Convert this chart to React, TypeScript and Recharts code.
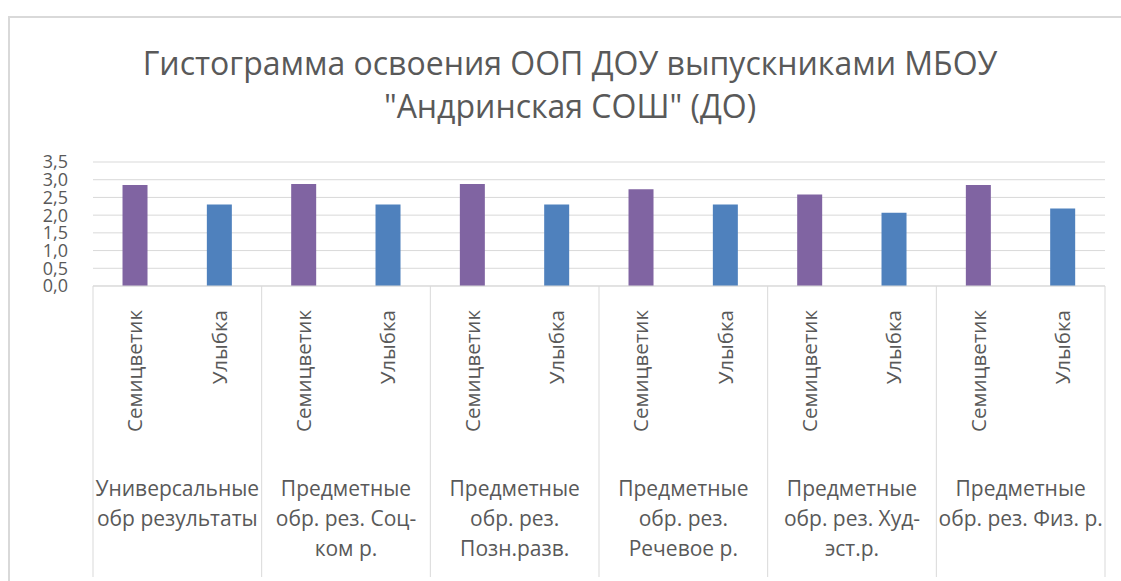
import { BarChart, Bar, XAxis, YAxis, CartesianGrid } from "recharts";

const titleLines = ["Гистограмма освоения ООП ДОУ выпускниками МБОУ", "\"Андринская СОШ\" (ДО)"];

// group labels, already split the way Excel wrapped them
const groupLabels = [
  ["Универсальные", "обр результаты"],
  ["Предметные", "обр. рез. Соц-", "ком р."],
  ["Предметные", "обр. рез.", "Позн.разв."],
  ["Предметные", "обр. рез.", "Речевое р."],
  ["Предметные", "обр. рез. Худ-", "эст.р."],
  ["Предметные", "обр. рез. Физ. р."],
];

const seriesNames = ["Семицветик", "Улыбка"];
const semitsvetikValues = [2.85, 2.88, 2.88, 2.73, 2.58, 2.85];
const ulybkaValues = [2.3, 2.3, 2.3, 2.3, 2.07, 2.19];
const yTicks = [0, 0.5, 1, 1.5, 2, 2.5, 3, 3.5];

const data = groupLabels.flatMap((_, i) => [
  { key: `g${i}-0`, group: i, series: seriesNames[0], semitsvetik: semitsvetikValues[i] },
  { key: `g${i}-1`, group: i, series: seriesNames[1], ulybka: ulybkaValues[i] },
]);

const FONT = "'Open Sans', sans-serif";
const TEXT = "#595959";
const LINE = "#d9d9d9";

function CategoryTick(props: any) {
  const { x, y, payload } = props;
  const idx = payload.index ?? props.index;
  const row = data[idx];
  const half = payload.offset ?? 0;
  const isFirst = idx % 2 === 0;
  const isLast = idx === data.length - 1;
  const lines = groupLabels[row.group];

  return (
    <g>
      <text
        x={x}
        y={y + 24}
        transform={`rotate(-90, ${x}, ${y + 24})`}
        textAnchor="end"
        dy="0.35em"
        fill={TEXT}
        fontSize={20.5}
        fontFamily={FONT}
      >
        {row.series}
      </text>
      {isFirst && (
        <line x1={x - half} x2={x - half} y1={y} y2={y + 291} stroke={LINE} strokeWidth={1} />
      )}
      {isLast && (
        <line x1={x + half} x2={x + half} y1={y} y2={y + 291} stroke={LINE} strokeWidth={1} />
      )}
      {isFirst &&
        lines.map((t, k) => (
          <text
            key={k}
            x={x + half}
            y={y + 210 + k * 30}
            textAnchor="middle"
            fill={TEXT}
            fontSize={21}
            fontFamily={FONT}
          >
            {t}
          </text>
        ))}
    </g>
  );
}

export default function App() {
  return (
    <div style={{ position: "absolute", left: 0, top: 0, width: 1121, height: 581, overflow: "hidden", background: "#fff" }}>
      <div
        style={{
          position: "absolute",
          left: 8,
          top: 16,
          width: 1113,
          height: 565,
          borderTop: `2px solid ${LINE}`,
          borderLeft: `2px solid ${LINE}`,
          boxSizing: "border-box",
        }}
      />
      <div
        style={{
          position: "absolute",
          left: 0,
          top: 41,
          width: 1140,
          textAlign: "center",
          fontFamily: FONT,
          fontSize: 32,
          lineHeight: "43px",
          color: TEXT,
        }}
      >
        {titleLines.map((t, i) => (
          <div key={i}>{t}</div>
        ))}
      </div>
      <div style={{ position: "absolute", left: 0, top: 0 }}>
        <BarChart
          width={1121}
          height={581}
          data={data}
          margin={{ top: 162, right: 16, left: 0, bottom: 0 }}
          barCategoryGap="35%"
        >
          <CartesianGrid vertical={false} stroke={LINE} />
          <XAxis
            dataKey="key"
            interval={0}
            height={295}
            tickLine={false}
            tickSize={0}
            tickMargin={0}
            axisLine={{ stroke: LINE }}
            tick={<CategoryTick />}
          />
          <YAxis
            domain={[0, 3.5]}
            ticks={yTicks}
            interval={0}
            width={93}
            axisLine={false}
            tickLine={false}
            tickMargin={19}
            tick={{ fill: TEXT, fontSize: 18, fontFamily: FONT }}
            tickFormatter={(v: number) => v.toFixed(1).replace(".", ",")}
          />
          <Bar dataKey="semitsvetik" stackId="a" fill="#8064A2" isAnimationActive={false} />
          <Bar dataKey="ulybka" stackId="a" fill="#4F81BD" isAnimationActive={false} />
        </BarChart>
      </div>
    </div>
  );
}
